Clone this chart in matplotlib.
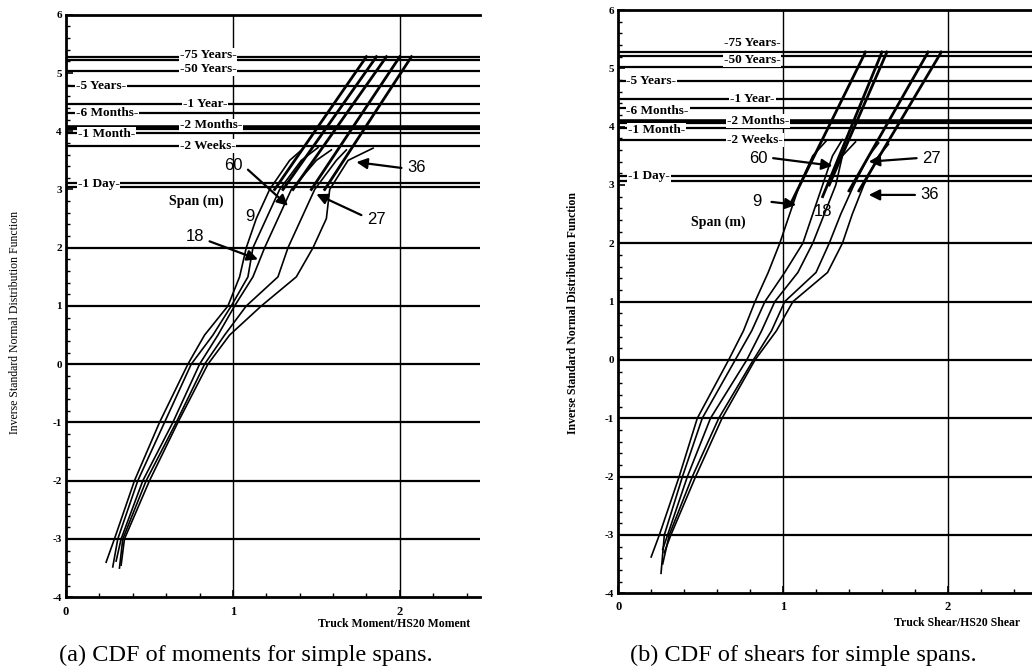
import matplotlib
matplotlib.use("Agg")
import matplotlib.pyplot as plt
from matplotlib.ticker import MultipleLocator

plt.rcParams["axes.unicode_minus"] = False

# ---------------- data ----------------
SPANS = ["9", "18", "60", "27", "36"]
Y_LEVELS = [-3.0, -2.0, -1.0, 0.0, 0.5, 1.0, 1.5, 2.0, 2.5, 3.0, 3.5]

# (a) moments: x values at Y_LEVELS for each span curve
MOM_X = {
    "9":  [0.29, 0.41, 0.56, 0.73, 0.83, 0.97, 1.04, 1.08, 1.14, 1.22, 1.34],
    "18": [0.31, 0.43, 0.59, 0.75, 0.88, 0.99, 1.09, 1.12, 1.20, 1.28, 1.41],
    "60": [0.33, 0.46, 0.64, 0.80, 0.91, 1.01, 1.12, 1.19, 1.27, 1.35, 1.50],
    "27": [0.34, 0.48, 0.66, 0.83, 0.95, 1.08, 1.27, 1.33, 1.41, 1.49, 1.62],
    "36": [0.35, 0.50, 0.67, 0.85, 0.98, 1.17, 1.38, 1.48, 1.56, 1.58, 1.69],
}
MOM_START = {"9": (0.24, -3.40), "18": (0.28, -3.48), "60": (0.30, -3.38),
             "27": (0.32, -3.50), "36": (0.33, -3.45)}
MOM_END = {"9": (1.42, 3.70), "18": (1.51, 3.72), "60": (1.59, 3.68),
           "27": (1.68, 3.68), "36": (1.84, 3.71)}
MOM_EXTRAP = {"9": [(1.25, 3.0), (1.80, 5.28)], "18": [(1.30, 3.0), (1.86, 5.28)],
              "60": [(1.36, 3.0), (1.92, 5.28)], "27": [(1.47, 3.0), (2.00, 5.28)],
              "36": [(1.55, 3.0), (2.07, 5.28)]}

# (b) shears
SHR_X = {
    "9":  [0.25, 0.37, 0.48, 0.67, 0.76, 0.83, 0.91, 0.98, 1.04, 1.10, 1.18],
    "18": [0.28, 0.39, 0.51, 0.71, 0.81, 0.89, 1.01, 1.12, 1.18, 1.24, 1.30],
    "60": [0.30, 0.42, 0.56, 0.78, 0.87, 0.95, 1.09, 1.18, 1.25, 1.32, 1.36],
    "27": [0.31, 0.45, 0.61, 0.82, 0.93, 1.01, 1.20, 1.28, 1.35, 1.43, 1.52],
    "36": [0.32, 0.47, 0.63, 0.83, 0.96, 1.06, 1.27, 1.36, 1.42, 1.49, 1.58],
}
SHR_START = {"9": (0.20, -3.38), "18": (0.26, -3.66), "60": (0.27, -3.25),
             "27": (0.27, -3.50), "36": (0.28, -3.30)}
SHR_END = {"9": (1.26, 3.75), "18": (1.36, 3.78), "60": (1.44, 3.74),
           "27": (1.58, 3.72), "36": (1.64, 3.70)}
SHR_EXTRAP = {"9": [(1.05, 2.70), (1.50, 5.28)], "18": [(1.24, 2.80), (1.60, 5.28)],
              "60": [(1.28, 3.00), (1.63, 5.28)], "27": [(1.40, 2.90), (1.88, 5.28)],
              "36": [(1.46, 2.90), (1.96, 5.28)]}

# return-period levels (label, y of line, x of label, y of label)
MOM_LEVELS = [("75 Years", 5.28, 0.68, 5.31), ("50 Years", 5.04, 0.68, 5.07),
              ("5 Years", 4.78, 0.06, 4.78), ("1 Year", 4.47, 0.70, 4.47),
              ("6 Months", 4.32, 0.06, 4.32), ("2 Months", 4.08, 0.68, 4.10),
              ("1 Month", 3.97, 0.07, 3.95), ("2 Weeks", 3.75, 0.68, 3.75),
              ("1 Day", 3.11, 0.07, 3.10)]
MOM_EXTRA_LINES = [5.23, 4.04, 3.04]
SHR_LEVELS = [("75 Years", 5.28, 0.64, 5.43), ("50 Years", 5.02, 0.64, 5.14),
              ("5 Years", 4.78, 0.05, 4.78), ("1 Year", 4.47, 0.68, 4.47),
              ("6 Months", 4.32, 0.05, 4.27), ("2 Months", 4.10, 0.66, 4.10),
              ("1 Month", 3.98, 0.06, 3.94), ("2 Weeks", 3.77, 0.66, 3.77),
              ("1 Day", 3.15, 0.06, 3.15)]
SHR_EXTRA_LINES = [5.21, 4.06, 3.06]

GRID_Y = [-3, -2, -1, 0, 1, 2]
GRID_X = [1, 2]

# span labels: (text, text xy, arrow target or None)
MOM_ANN = [("60", (1.00, 3.42), (1.33, 2.72)), ("9", (1.10, 2.53), None),
           ("18", (0.77, 2.19), (1.15, 1.80)), ("27", (1.86, 2.48), (1.50, 2.92)),
           ("36", (2.10, 3.37), (1.74, 3.47))]
MOM_SPAN_LABEL = (0.78, 2.79)
SHR_ANN = [("60", (0.85, 3.46), (1.30, 3.33)), ("9", (0.84, 2.71), (1.08, 2.66)),
           ("18", (1.24, 2.55), None), ("27", (1.90, 3.46), (1.52, 3.40)),
           ("36", (1.89, 2.83), (1.52, 2.83))]
SHR_SPAN_LABEL = (0.61, 2.36)

SERIF = ["Liberation Serif", "DejaVu Serif"]

fig = plt.figure(figsize=(10.32, 6.71), dpi=100)


def draw_panel(ax, xdict, start, end, extrap, levels, extra_lines, ann, spanlab, xmax):
    ax.set_xlim(0, xmax)
    ax.set_ylim(-4, 6)
    for y in GRID_Y:
        ax.axhline(y, color="black", lw=1.6, zorder=1)
    for x in GRID_X:
        ax.axvline(x, color="black", lw=1.0, zorder=1)
    for y in extra_lines:
        ax.axhline(y, color="black", lw=1.6, zorder=1)
    for lab, yl, xt, yt in levels:
        lw = 2.6 if lab == "2 Months" else 1.6
        ax.axhline(yl, color="black", lw=lw, zorder=1)
        ax.text(xt, yt, "-" + lab + "-", fontsize=9.5, fontweight="bold",
                family=SERIF, ha="left", va="center", zorder=3,
                bbox=dict(facecolor="white", edgecolor="none", pad=0.6))
    for s in SPANS:
        xs = [start[s][0]] + xdict[s] + [end[s][0]]
        ys = [start[s][1]] + Y_LEVELS + [end[s][1]]
        ax.plot(xs, ys, color="black", lw=1.2, zorder=4)
        (x0, y0), (x1, y1) = extrap[s]
        ax.plot([x0, x1], [y0, y1], color="black", lw=2.0, zorder=4)
    for txt, xy, tgt in ann:
        ax.text(xy[0], xy[1], txt, fontsize=12, family=["Liberation Sans", "DejaVu Sans"],
                ha="center", va="center", zorder=5)
        if tgt is not None:
            dx = 0.09 if tgt[0] > xy[0] else -0.09
            if abs(tgt[1] - xy[1]) < 0.2:
                dy = 0.0
            else:
                dy = -0.08 if tgt[1] < xy[1] else 0.08
            ax.annotate("", xy=tgt, xytext=(xy[0] + dx, xy[1] + dy),
                        arrowprops=dict(arrowstyle="-|>", color="black", lw=1.6,
                                        mutation_scale=16, shrinkA=0, shrinkB=0),
                        zorder=5)
    ax.text(spanlab[0], spanlab[1], "Span (m)", fontsize=10, fontweight="bold",
            family=SERIF, ha="center", va="center", zorder=5)
    ax.set_yticks(range(-4, 7))
    ax.set_xticks([0, 1, 2])
    ax.yaxis.set_minor_locator(MultipleLocator(0.2))
    ax.xaxis.set_minor_locator(MultipleLocator(0.2))
    ax.tick_params(which="major", direction="in", length=5, width=1.2,
                   labelsize=8, pad=3)
    ax.tick_params(which="minor", direction="in", length=3, width=1.0)
    for lab in ax.get_xticklabels() + ax.get_yticklabels():
        lab.set_family(SERIF)
        lab.set_fontweight("bold")
    ax.tick_params(axis="x", pad=6, labelsize=9)
    ax.spines["right"].set_visible(False)
    for sp in ("left", "bottom", "top"):
        ax.spines[sp].set_linewidth(2.0)


axL = fig.add_axes([0.064, 0.110, 0.401, 0.868])
draw_panel(axL, MOM_X, MOM_START, MOM_END, MOM_EXTRAP, MOM_LEVELS,
           MOM_EXTRA_LINES, MOM_ANN, MOM_SPAN_LABEL, 2.48)
axR = fig.add_axes([0.599, 0.116, 0.401, 0.869])
draw_panel(axR, SHR_X, SHR_START, SHR_END, SHR_EXTRAP, SHR_LEVELS,
           SHR_EXTRA_LINES, SHR_ANN, SHR_SPAN_LABEL, 2.51)

fig.text(470 / 1032, 1 - 624 / 671, "Truck Moment/HS20 Moment", fontsize=8.5,
         fontweight="bold", family=SERIF, ha="right", va="center")
fig.text(1020 / 1032, 1 - 623 / 671, "Truck Shear/HS20 Shear", fontsize=8.5,
         fontweight="bold", family=SERIF, ha="right", va="center")
fig.text(15 / 1032, 1 - 322 / 671, "Inverse Standard Normal Distribution Function",
         fontsize=8.5, family=SERIF, rotation=90, ha="center", va="center")
fig.text(573 / 1032, 1 - 313 / 671, "Inverse Standard Normal Distribution Function",
         fontsize=8.5, fontweight="bold", family=SERIF, rotation=90, ha="center", va="center")
fig.text(246 / 1032, 1 - 655 / 671, "(a) CDF of moments for simple spans.",
         fontsize=17.5, family=SERIF, ha="center", va="center")
fig.text(803 / 1032, 1 - 655 / 671, "(b) CDF of shears for simple spans.",
         fontsize=17.5, family=SERIF, ha="center", va="center")

fig.savefig("out.png", dpi=100)
